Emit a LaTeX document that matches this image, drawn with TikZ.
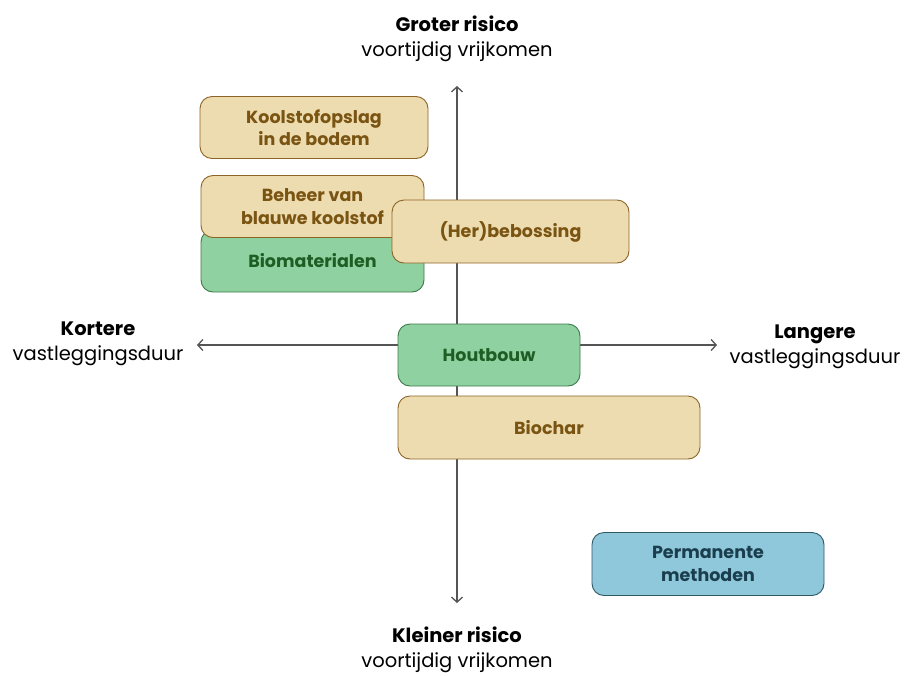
\documentclass[tikz,border=0pt]{standalone}
\usepackage{fontspec}
\setmainfont{Poppins}
\usetikzlibrary{arrows.meta}
\definecolor{axisgray}{HTML}{555555}
\definecolor{beigefill}{HTML}{EDDCB0}
\definecolor{beigeline}{HTML}{8C6426}
\definecolor{beigetext}{HTML}{7A5412}
\definecolor{greenfill}{HTML}{8FD1A0}
\definecolor{greenline}{HTML}{3F7A4B}
\definecolor{greentext}{HTML}{1E5E24}
\definecolor{bluefill}{HTML}{8FC8DA}
\definecolor{blueline}{HTML}{2F5868}
\definecolor{bluetext}{HTML}{1B3E4E}
\tikzset{
  axisline/.style={draw=axisgray, line width=1.3pt, {Straight Barb[length=5pt,width=11pt]}-{Straight Barb[length=5pt,width=11pt]}},
  boxbase/.style={rounded corners=12pt, line width=0.9pt, align=center, font=\fontsize{17.5}{22.5}\selectfont\bfseries, inner sep=0pt},
  beigebox/.style={boxbase, fill=beigefill, draw=beigeline, text=beigetext},
  greenbox/.style={boxbase, fill=greenfill, draw=greenline, text=greentext},
  bluebox/.style={boxbase, fill=bluefill, draw=blueline, text=bluetext},
  axlabel/.style={align=center, font=\fontsize{19.5}{25}\selectfont, text=black}
}
\begin{document}
\begin{tikzpicture}[x=1pt,y=-1pt]
\useasboundingbox (0,0) rectangle (905,675);
% axes
\coordinate (top) at (457,86);
\coordinate (bottom) at (457,603);
\coordinate (left) at (197,345);
\coordinate (right) at (717,345);
\draw[axisline] (bottom) -- (top);
\draw[axisline] (left) -- (right);
% axis labels
\node[axlabel] (gtop) at (457,39) {\textbf{Groter risico}\\voortijdig vrijkomen};
\node[axlabel] (gbot) at (457,650) {\textbf{Kleiner risico}\\voortijdig vrijkomen};
\node[axlabel] (gleft) at (98,344) {\textbf{Kortere}\\vastleggingsduur};
\node[axlabel] (gright) at (815,347) {\textbf{Langere}\\vastleggingsduur};
% boxes
\node[beigebox, minimum width=228pt, minimum height=62pt] (kool) at (314,127.5) {Koolstofopslag\\in de bodem};
\node[greenbox, minimum width=223pt, minimum height=62pt] (bio) at (312.5,261) {Biomaterialen};
\node[beigebox, minimum width=223pt, minimum height=62pt] (beheer) at (312.5,206.5) {Beheer van\\blauwe koolstof};
\node[beigebox, minimum width=237pt, minimum height=63pt] (herb) at (510.5,231.5) {(Her)bebossing};
\node[greenbox, minimum width=182pt, minimum height=62pt] (hout) at (489,355) {Houtbouw};
\node[beigebox, minimum width=302pt, minimum height=63pt] (biochar) at (549,427.5) {Biochar};
\node[bluebox, minimum width=232pt, minimum height=63pt] (perm) at (708,564) {Permanente\\methoden};
\end{tikzpicture}
\end{document}
